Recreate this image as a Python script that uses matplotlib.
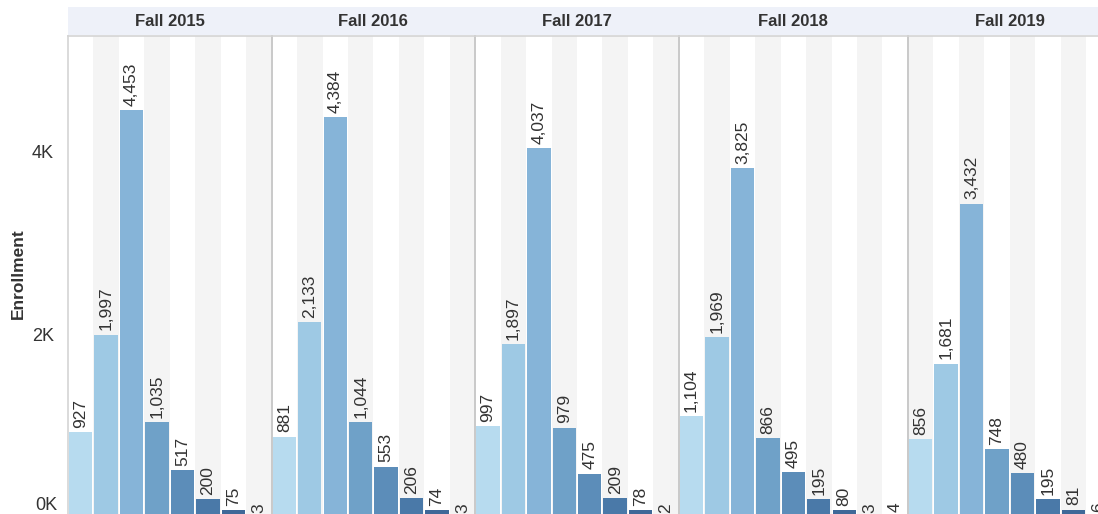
import matplotlib
matplotlib.use("Agg")
import matplotlib.pyplot as plt
from matplotlib.patches import Rectangle
from matplotlib.lines import Line2D
from matplotlib.ticker import FixedLocator, FuncFormatter

plt.rcParams['font.family'] = ['Liberation Sans', 'DejaVu Sans']

# ---- data ----
terms = ["Fall 2015", "Fall 2016", "Fall 2017", "Fall 2018", "Fall 2019"]
fall_2015 = [927, 1997, 4453, 1035, 517, 200, 75, 3]
fall_2016 = [881, 2133, 4384, 1044, 553, 206, 74, 3]
fall_2017 = [997, 1897, 4037, 979, 475, 209, 78, 2]
fall_2018 = [1104, 1969, 3825, 866, 495, 195, 80, 3, 4]
fall_2019 = [856, 1681, 3432, 748, 480, 195, 81, 6]
series = [fall_2015, fall_2016, fall_2017, fall_2018, fall_2019]
ytick_vals = [2000, 4000]

bar_colors = ["#b7dbef", "#9ec9e4", "#86b4d8", "#6fa1c8", "#5c8db9",
              "#4a79a8", "#3f6898", "#345a88", "#2b4c7a"]

W, H = 1098, 514
fig = plt.figure(figsize=(W / 100, H / 100), dpi=100)
fig.patch.set_facecolor("white")

slot = 25.45
left0 = 68
y_zero = 517
y_top = 36
ymax = 5268

text_col = "#333333"
band_col = "#f4f4f4"
sep_col = "#c9c9c9"

# header band
fig.add_artist(Rectangle((left0 / W, (H - 35) / H), (W - left0) / W, 28 / H,
                         transform=fig.transFigure, facecolor="#eef1f9",
                         edgecolor="none", zorder=0))
fig.add_artist(Line2D([left0 / W, 1], [(H - 35.5) / H] * 2,
                      transform=fig.transFigure, color="#d4d4d4", lw=1.2))

gidx = 0
x = left0
axes = []
for k, (term, vals) in enumerate(zip(terms, series)):
    n = len(vals)
    w = n * slot
    ax = fig.add_axes([x / W, (H - y_zero) / H, w / W, (y_zero - y_top) / H])
    ax.set_xlim(-0.5, n - 0.5)
    ax.set_ylim(0, ymax)
    ax.set_facecolor("white")
    for i in range(n):
        if (gidx + i) % 2 == 1:
            ax.axvspan(i - 0.5, i + 0.5, color=band_col, lw=0, zorder=0)
    ax.bar(range(n), vals, width=0.92, color=bar_colors[:n], zorder=2)
    for i, v in enumerate(vals):
        ax.annotate(f"{v:,}", (i, v), xytext=(0, 3), textcoords="offset points",
                    rotation=90, ha="center", va="bottom", fontsize=12.5,
                    color=text_col, annotation_clip=False)
    for s in ["top", "right", "bottom"]:
        ax.spines[s].set_visible(False)
    ax.spines["left"].set_color(sep_col if k > 0 else "#dadada")
    ax.spines["left"].set_linewidth(1.4)
    ax.set_xticks([])
    ax.tick_params(axis="y", length=0)
    if k == 0:
        ax.yaxis.set_major_locator(FixedLocator(ytick_vals))
        ax.yaxis.set_major_formatter(FuncFormatter(lambda v, p: f"{v/1000:.0f}K"))
        ax.tick_params(axis="y", labelsize=13, labelcolor=text_col, pad=10)
    else:
        ax.set_yticks([])
    fig.text((x + w / 2) / W, (H - 21) / H, term, ha="center", va="center",
             fontsize=12, fontweight="bold", color=text_col)
    axes.append(ax)
    gidx += n
    x += w

fig.text(57 / W, (H - 506) / H, "0K", ha="right", va="center",
         fontsize=13, color=text_col)
fig.text(18 / W, (H - 274) / H, "Enrollment", rotation=90, ha="center",
         va="center", fontsize=12.5, fontweight="bold", color=text_col)

fig.savefig("out.png", dpi=100)
